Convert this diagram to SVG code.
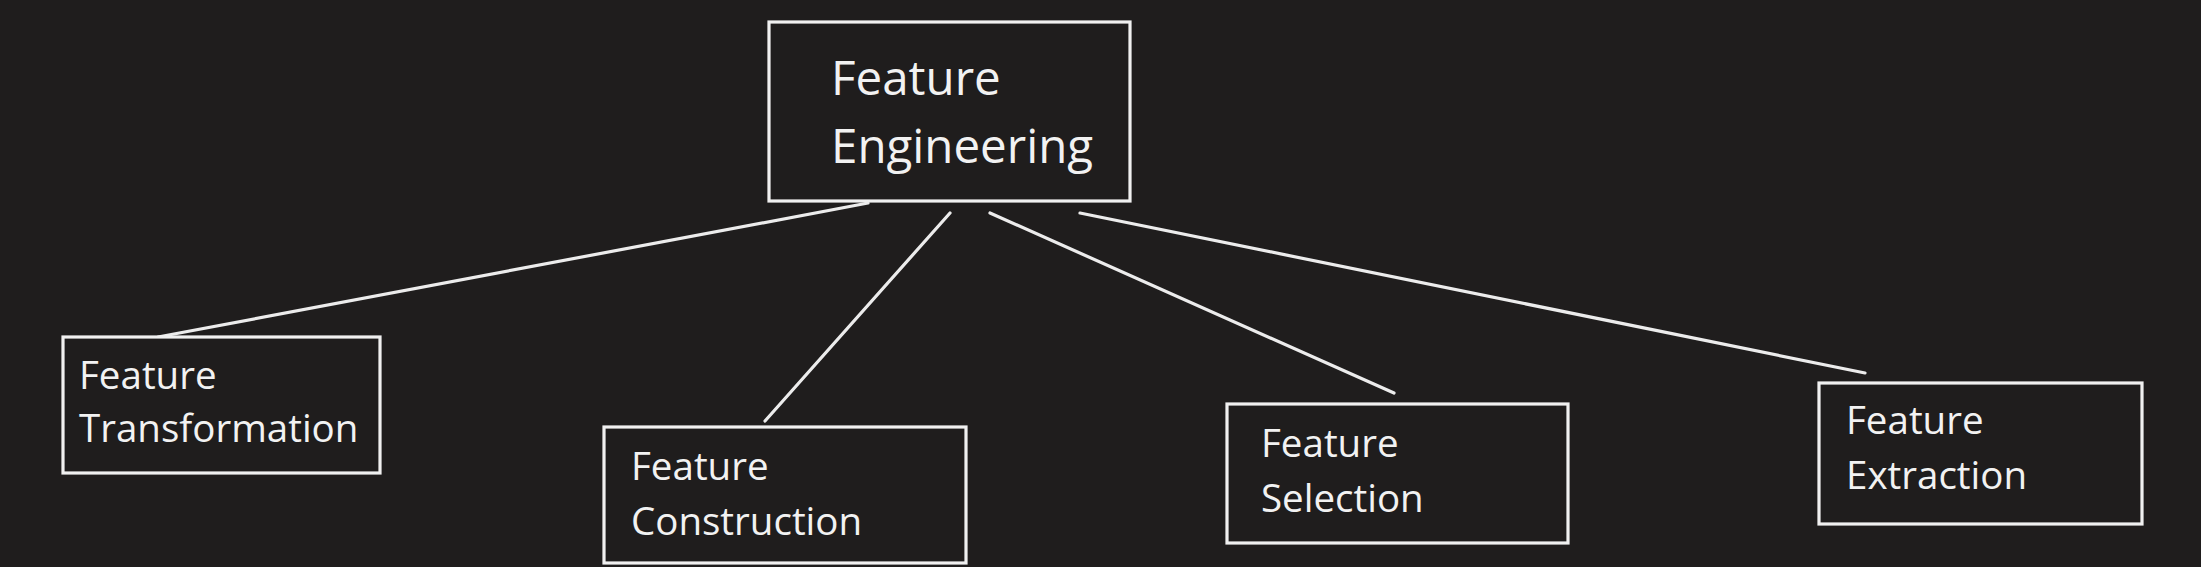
<svg xmlns="http://www.w3.org/2000/svg" width="2201" height="567" viewBox="0 0 2201 567">
<style>
.bg{fill:#1f1d1d}
.box{fill:#1f1d1d;stroke:#f0f0f0;stroke-width:3.2}
.lbl{font-family:"Open Sans","Noto Sans","Liberation Sans",sans-serif;fill:#f2f2f2;font-size:38.5px}
.big{font-size:47.5px}
.conn line{stroke:#ececec;stroke-width:3.2;stroke-linecap:round}
</style>
<rect class="bg" x="0" y="0" width="2201" height="567"/>
<g class="conn" id="connectors">
<line x1="868" y1="203" x2="158" y2="337"/>
<line x1="950" y1="213" x2="765" y2="421"/>
<line x1="990" y1="213" x2="1394" y2="393"/>
<line x1="1080" y1="213" x2="1865" y2="373"/>
</g>
<g id="feature-engineering">
<rect class="box" x="769" y="22" width="361" height="179"/>
<text class="lbl big" x="831" y="95">Feature</text>
<text class="lbl big" x="831" y="163">Engineering</text>
</g>
<g id="feature-transformation">
<rect class="box" x="63" y="337" width="317" height="136"/>
<text class="lbl" x="79" y="389">Feature</text>
<text class="lbl" x="79" y="442">Transformation</text>
</g>
<g id="feature-construction">
<rect class="box" x="604" y="427" width="362" height="136"/>
<text class="lbl" x="631" y="480">Feature</text>
<text class="lbl" x="631" y="535">Construction</text>
</g>
<g id="feature-selection">
<rect class="box" x="1227" y="404" width="341" height="139"/>
<text class="lbl" x="1261" y="457">Feature</text>
<text class="lbl" x="1261" y="512">Selection</text>
</g>
<g id="feature-extraction">
<rect class="box" x="1819" y="383" width="323" height="141"/>
<text class="lbl" x="1846" y="434">Feature</text>
<text class="lbl" x="1846" y="489">Extraction</text>
</g>
</svg>
